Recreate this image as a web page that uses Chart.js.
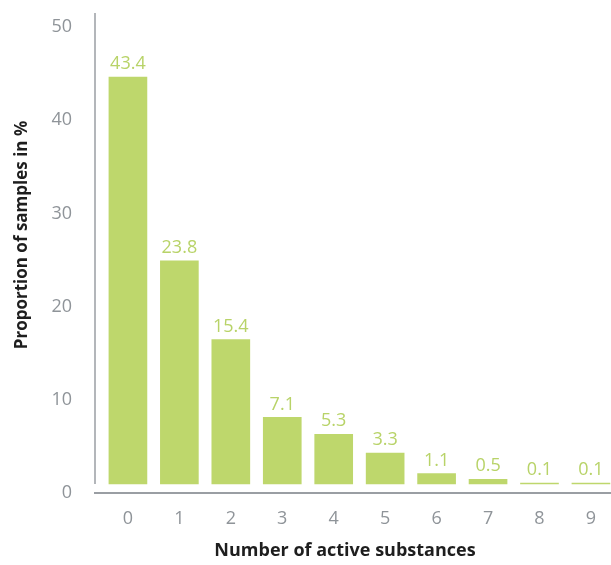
<!DOCTYPE html>
<html>
<head>
<meta charset="utf-8">
<script src="https://cdn.jsdelivr.net/npm/chart.js@4"></script>
<style>
    body { margin: 0; background: #ffffff; }
</style>
</head>
<body>
<canvas id="substanceChart" width="611" height="565"></canvas>
<script>
// Chart data
const substances = [0, 1, 2, 3, 4, 5, 6, 7, 8, 9];
const proportions = [43.4, 23.8, 15.4, 7.1, 5.3, 3.3, 1.1, 0.5, 0.1, 0.1];
const yTickValues = [0, 10, 20, 30, 40, 50];
const xTitle = 'Number of active substances';
const yTitle = 'Proportion of samples in %';

const barColor = '#bed76c';
const labelColor = '#b8d368';
const tickColor = '#8f9499';
const axisColor = '#9a9ea3';
const titleColor = '#1e1e1e';
const fontFamily = '"Open Sans", "DejaVu Sans", sans-serif';

// Value labels above each bar
const valueLabels = {
    id: 'valueLabels',
    afterDatasetsDraw(chart) {
        const ctx = chart.ctx;
        const meta = chart.getDatasetMeta(0);
        ctx.save();
        ctx.fillStyle = labelColor;
        ctx.font = '18px ' + fontFamily;
        ctx.textAlign = 'center';
        ctx.textBaseline = 'bottom';
        meta.data.forEach((bar, i) => {
            ctx.fillText(proportions[i].toFixed(1), bar.x, bar.y - 4);
        });
        ctx.restore();
    }
};

// Axis lines: y line stops at the bar baseline, x line sits below it
const axisLines = {
    id: 'axisLines',
    beforeDatasetsDraw(chart) {
        const ctx = chart.ctx;
        const area = chart.chartArea;
        const base = chart.scales.y.getPixelForValue(0);
        ctx.save();
        ctx.strokeStyle = axisColor;
        ctx.lineWidth = 1.5;
        ctx.beginPath();
        ctx.moveTo(area.left, area.top);
        ctx.lineTo(area.left, base);
        ctx.stroke();
        ctx.lineWidth = 2;
        ctx.beginPath();
        ctx.moveTo(area.left - 1, area.bottom);
        ctx.lineTo(area.right, area.bottom);
        ctx.stroke();
        ctx.restore();
    }
};

// Axis titles
const axisTitles = {
    id: 'axisTitles',
    afterDraw(chart) {
        const ctx = chart.ctx;
        ctx.save();
        ctx.fillStyle = titleColor;
        ctx.font = 'bold 18px ' + fontFamily;
        ctx.textAlign = 'center';
        ctx.textBaseline = 'middle';
        ctx.fillText(xTitle, 345, 551);
        ctx.font = 'bold 17px ' + fontFamily;
        ctx.translate(22, 235);
        ctx.rotate(-Math.PI / 2);
        ctx.fillText(yTitle, 0, 0);
        ctx.restore();
    }
};

new Chart(document.getElementById('substanceChart'), {
    type: 'bar',
    data: {
        datasets: [{
            data: substances.map((s, i) => ({ x: s, y: proportions[i] })),
            backgroundColor: barColor,
            barThickness: 38,
            xAxisID: 'x',
            yAxisID: 'y'
        }]
    },
    options: {
        responsive: false,
        animation: false,
        layout: {
            padding: { top: 13, right: 0, bottom: 36, left: 0 }
        },
        plugins: {
            legend: { display: false },
            tooltip: { enabled: false }
        },
        scales: {
            x: {
                type: 'linear',
                offset: false,
                min: -0.64,
                max: 9.39,
                grid: { display: false, drawTicks: false, offset: false },
                border: { display: false },
                afterBuildTicks: scale => {
                    scale.ticks = substances.map(v => ({ value: v }));
                },
                afterFit: scale => {
                    scale.height = 36;
                    scale.paddingLeft = 0;
                    scale.paddingRight = 0;
                },
                ticks: {
                    color: tickColor,
                    font: { family: fontFamily, size: 18 },
                    padding: 15,
                    maxRotation: 0,
                    callback: value => String(value)
                }
            },
            y: {
                display: false,
                min: -0.96,
                max: 50.22
            },
            yLab: {
                type: 'linear',
                position: 'left',
                min: 0,
                max: 51.5,
                grid: { display: false, drawTicks: false },
                border: { display: false },
                afterBuildTicks: scale => {
                    scale.ticks = yTickValues.map(v => ({ value: v }));
                },
                afterFit: scale => {
                    scale.width = 95;
                    scale.paddingTop = 0;
                    scale.paddingBottom = 0;
                },
                ticks: {
                    color: tickColor,
                    font: { family: fontFamily, size: 18 },
                    padding: 23
                }
            }
        }
    },
    plugins: [axisLines, valueLabels, axisTitles]
});
</script>
</body>
</html>
